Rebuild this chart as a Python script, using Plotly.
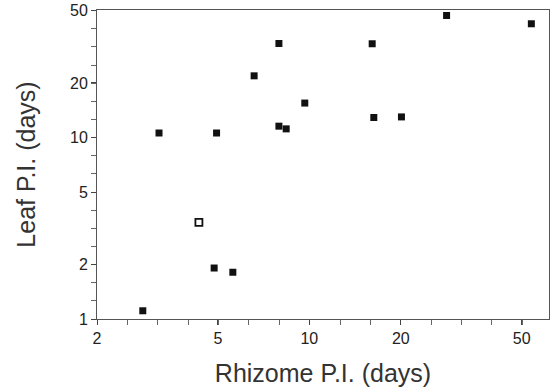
import numpy as np
import plotly.graph_objects as go

# Data (log-log scatter)
rhizome_pi = [3.20, 4.95, 6.58, 7.94, 7.94, 8.39, 9.66, 16.1, 16.3, 20.1, 28.3, 53.8, 4.86, 5.60, 2.83]
leaf_pi    = [10.6, 10.6, 21.9, 33.0, 11.56, 11.17, 15.5, 32.9, 12.9, 13.0, 47.1, 42.4, 1.91, 1.81, 1.11]

open_rhizome_pi = [4.33]
open_leaf_pi = [3.41]

x_tick_vals = [2, 5, 10, 20, 50]
y_tick_vals = [1, 2, 5, 10, 20, 50]

x_minor = [2 * 10 ** (0.1 * k) for k in range(0, 15)]
y_minor = [10 ** (0.1 * k) for k in range(0, 18)]

fig = go.Figure()
fig.add_trace(go.Scatter(
    x=rhizome_pi, y=leaf_pi, mode="markers",
    marker=dict(symbol="square", size=7, color="#111111", line=dict(width=0)),
    showlegend=False, cliponaxis=False,
))
fig.add_trace(go.Scatter(
    x=open_rhizome_pi, y=open_leaf_pi, mode="markers",
    marker=dict(symbol="square", size=7, color="white", line=dict(width=1.8, color="#111111")),
    showlegend=False, cliponaxis=False,
))

axis_font = dict(family="Liberation Sans, Arial, Helvetica, sans-serif", size=16, color="#222222")
title_font = dict(family="Liberation Sans, Arial, Helvetica, sans-serif", size=25, color="#333333")

fig.update_xaxes(
    type="log", range=[np.log10(2), np.log10(61.5)],
    tickmode="array", tickvals=x_tick_vals, ticktext=[str(v) for v in x_tick_vals],
    ticks="outside", ticklen=5, tickcolor="#444444", tickwidth=1,
    minor=dict(tickmode="array", tickvals=x_minor, ticks="outside", ticklen=5, tickcolor="#666666", tickwidth=1),
    showline=True, linecolor="#555555", linewidth=1, mirror=True,
    showgrid=False, zeroline=False,
    tickfont=axis_font,
    title=dict(text="Rhizome P.I. (days)", font=title_font, standoff=18),
)
fig.update_yaxes(
    type="log", range=[0, np.log10(50.5)],
    tickmode="array", tickvals=y_tick_vals, ticktext=[str(v) for v in y_tick_vals],
    ticks="outside", ticklen=5, tickcolor="#444444", tickwidth=1,
    minor=dict(tickmode="array", tickvals=y_minor, ticks="outside", ticklen=5, tickcolor="#666666", tickwidth=1),
    showline=True, linecolor="#555555", linewidth=1, mirror=True,
    showgrid=False, zeroline=False,
    tickfont=axis_font,
    title=dict(text="Leaf P.I. (days)", font=title_font, standoff=27),
)

fig.update_layout(
    width=551, height=391,
    margin=dict(l=97, r=2, t=10, b=72),
    paper_bgcolor="white", plot_bgcolor="white",
)

fig.write_html("out.html")
